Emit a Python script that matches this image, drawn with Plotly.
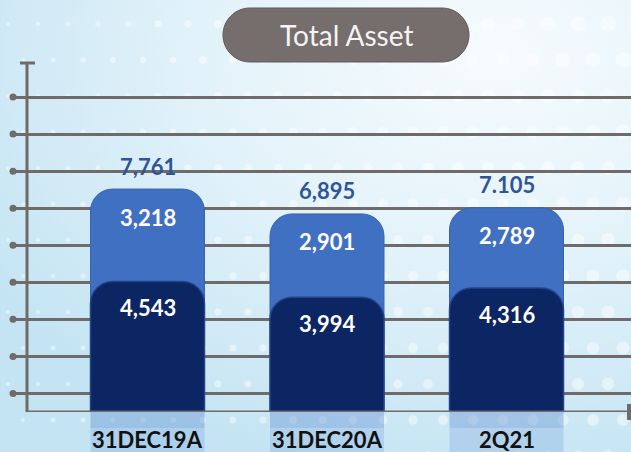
import base64
import plotly.graph_objects as go

# ---------------- data ----------------
categories = ["31DEC19A", "31DEC20A", "2Q21"]
dark_values = [4543, 3994, 4316]      # lower (dark) segment
light_values = [3218, 2901, 2789]     # upper (light) segment
total_labels = ["7,761", "6,895", "7.105"]
title_text = "Total Asset"

# ---------------- styling constants ----------------
W, H = 631, 452
M_L, M_R, M_T, M_B = 13, 0, 63, 40
PLOT_W = W - M_L - M_R
PLOT_H = H - M_T - M_B
Y_MAX = 12150
GRID_STEP = 1290
X_MIN, X_MAX = -0.7493, 2.6936
BAR_W = 0.635
LIGHT = "#4070c2"
DARK = "#0c2563"
GRID = "#6f6b6b"
TOTAL_COLOR = "#2f5597"
FONT = "Lato"

xpos = list(range(len(categories)))
totals = [d + l for d, l in zip(dark_values, light_values)]


def px_to_paper_x(px):
    return (px - M_L) / PLOT_W


def px_to_paper_y(py):
    return (H - M_B - py) / PLOT_H


# ---------------- background (gradient + halftone dots) ----------------
svg = [f'<svg xmlns="http://www.w3.org/2000/svg" width="{W}" height="{H}" viewBox="0 0 {W} {H}">',
       '<defs>',
       '<radialGradient id="r" cx="0.78" cy="0.12" r="0.95">'
       '<stop offset="0" stop-color="#f6fbfe"/>'
       '<stop offset="0.45" stop-color="#e4f3fa"/>'
       '<stop offset="1" stop-color="#c4e4f3"/></radialGradient>',
       '</defs>',
       f'<rect width="{W}" height="{H}" fill="url(#r)"/>']
row = 0
yy = 24
while yy < H + 20:
    off = 15 if row % 2 else 0
    xx = 8 + off
    while xx < W + 20:
        r = 1.8 + 6.5 * (xx / W) * (1.0 - 0.35 * yy / H)
        svg.append(f'<circle cx="{xx:.1f}" cy="{yy:.1f}" r="{r:.1f}" fill="#ffffff" fill-opacity="0.45"/>')
        xx += 30
    yy += 36
    row += 1
svg.append('</svg>')
bg_uri = "data:image/svg+xml;base64," + base64.b64encode("".join(svg).encode()).decode()

fig = go.Figure()

# bars: light = full column (dark + light), dark drawn on top (own overlaid axis so both get rounded tops)
fig.add_bar(x=xpos, y=totals, width=BAR_W, name="upper",
            marker=dict(color=LIGHT, cornerradius=22, line=dict(color="#3563b0", width=1)),
            hoverinfo="skip")
fig.add_bar(x=xpos, y=dark_values, width=BAR_W, name="lower", xaxis="x2",
            marker=dict(color=DARK, cornerradius=22, line=dict(color="#23438a", width=1.5)),
            hoverinfo="skip")

# dots at the left end of every gridline
grid_vals = []
g = GRID_STEP / 2
while g < Y_MAX:
    grid_vals.append(g)
    g += GRID_STEP
fig.add_scatter(x=[X_MIN] * len(grid_vals), y=grid_vals, mode="markers",
                marker=dict(color=GRID, size=7), cliponaxis=False, hoverinfo="skip")

annotations = []
for i in xpos:
    annotations.append(dict(x=i, y=totals[i], text=f"<b>{total_labels[i]}</b>", showarrow=False,
                            yshift=23, font=dict(family=FONT, size=22, color=TOTAL_COLOR)))
    annotations.append(dict(x=i, y=totals[i], text=f"<b>{light_values[i]:,}</b>", showarrow=False,
                            yshift=-28, font=dict(family=FONT, size=22, color="white")))
    annotations.append(dict(x=i, y=dark_values[i], text=f"<b>{dark_values[i]:,}</b>", showarrow=False,
                            yshift=-26, font=dict(family=FONT, size=22, color="white")))
    annotations.append(dict(x=i, y=0, text=f"<b>{categories[i]}</b>", showarrow=False,
                            yshift=-27, font=dict(family=FONT, size=22, color="#111111")))

# title pill
pill_cx, pill_cy = px_to_paper_x(346), px_to_paper_y(35)
annotations.append(dict(xref="paper", yref="paper", x=pill_cx, y=pill_cy, text=title_text,
                        xanchor="center", yanchor="middle",
                        showarrow=False, font=dict(family=FONT, size=28, color="#f4f4f4")))

hw, hh = 123, 27
k = 0.5523 * hh
c = hw - hh
pill_path = (f"M {-c},{-hh} L {c},{-hh} C {c + k},{-hh} {hw},{-k} {hw},0 "
             f"C {hw},{k} {c + k},{hh} {c},{hh} L {-c},{hh} "
             f"C {-c - k},{hh} {-hw},{k} {-hw},0 C {-hw},{-k} {-c - k},{-hh} {-c},{-hh} Z")

shapes = [
    # reflections below each bar
    *[dict(type="rect", xref="x", yref="paper", x0=i - BAR_W / 2, x1=i + BAR_W / 2,
           y0=-M_B / PLOT_H, y1=0, fillcolor="rgba(80,130,205,0.20)", line=dict(width=0),
           layer="below") for i in xpos],
    *[dict(type="rect", xref="x", yref="paper", x0=i - BAR_W / 2, x1=i + BAR_W / 2,
           y0=px_to_paper_y(428), y1=0, fillcolor="rgba(80,130,205,0.18)", line=dict(width=0),
           layer="below") for i in xpos],
    # vertical axis with cap
    dict(type="line", xref="paper", yref="paper", x0=px_to_paper_x(27), x1=px_to_paper_x(27),
         y0=0, y1=1, line=dict(color=GRID, width=3)),
    dict(type="line", xref="paper", yref="paper", x0=px_to_paper_x(20), x1=px_to_paper_x(35),
         y0=1, y1=1, line=dict(color=GRID, width=3)),
    # baseline with end cap
    dict(type="line", xref="paper", yref="y", x0=px_to_paper_x(27), x1=px_to_paper_x(628),
         y0=0, y1=0, line=dict(color=GRID, width=3)),
    dict(type="line", xref="paper", yref="paper", x0=px_to_paper_x(629), x1=px_to_paper_x(629),
         y0=px_to_paper_y(404), y1=px_to_paper_y(420), line=dict(color=GRID, width=4)),
    # title pill
    dict(type="path", xref="paper", yref="paper", xsizemode="pixel", ysizemode="pixel",
         xanchor=pill_cx, yanchor=pill_cy, path=pill_path,
         fillcolor="#756e6d", line=dict(color="#5f5857", width=1)),
]

axis_common = dict(range=[X_MIN, X_MAX], showgrid=False, zeroline=False, showticklabels=False,
                   showline=False, fixedrange=True)

fig.update_layout(
    width=W, height=H,
    margin=dict(l=M_L, r=M_R, t=M_T, b=M_B, pad=0),
    barmode="overlay",
    showlegend=False,
    paper_bgcolor="#dcedf6",
    plot_bgcolor="rgba(0,0,0,0)",
    xaxis=axis_common,
    xaxis2=dict(**axis_common, overlaying="x", matches="x"),
    yaxis=dict(range=[0, Y_MAX], tick0=GRID_STEP / 2, dtick=GRID_STEP, showgrid=True,
               gridcolor=GRID, gridwidth=3, zeroline=False, showticklabels=False,
               showline=False, fixedrange=True),
    annotations=annotations,
    shapes=shapes,
    images=[dict(source=bg_uri, xref="paper", yref="paper", x=-M_L / PLOT_W, y=1 + M_T / PLOT_H,
                 sizex=W / PLOT_W, sizey=H / PLOT_H, xanchor="left", yanchor="top",
                 sizing="stretch", layer="below")],
)

fig.write_html("out.html", config={"displayModeBar": False},
               post_script="document.body.style.margin='0';document.body.style.overflow='hidden';")
